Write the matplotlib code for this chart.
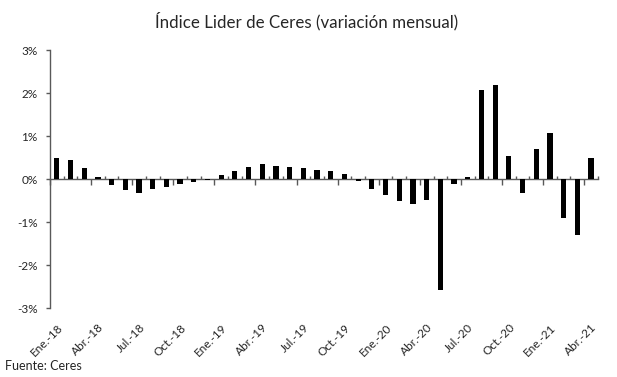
import numpy as np
import matplotlib
matplotlib.use('Agg')
from matplotlib import pyplot as plt

plt.rcParams['font.family'] = ['Lato', 'DejaVu Sans']

AXIS_COLOR = '#595959'
TEXT_COLOR = '#262626'

months = ['Ene', 'Feb', 'Mar', 'Abr', 'May', 'Jun',
          'Jul', 'Ago', 'Sep', 'Oct', 'Nov', 'Dic']
years = ['18', '19', '20', '21']
periods = [m + '.-' + y for y in years for m in months][:40]

# variacion mensual (%), Ene-18 .. Abr-21
values = [0.50, 0.44, 0.26, 0.05, -0.14, -0.25, -0.32, -0.24, -0.18, -0.12, -0.07, -0.02,
          0.09, 0.19, 0.29, 0.34, 0.31, 0.29, 0.26, 0.22, 0.18, 0.12, -0.04, -0.22,
          -0.37, -0.52, -0.57, -0.49, -2.57, -0.11, 0.05, 2.08, 2.20, 0.54, -0.32, 0.69,
          1.08, -0.90, -1.29, 0.49]

yticks = [-3, -2, -1, 0, 1, 2, 3]
ytick_labels = ['-3%', '-2%', '-1%', '0%', '1%', '2%', '3%']

x = np.arange(len(values))

fig = plt.figure(figsize=(6.17, 3.77), dpi=100)
ax = fig.add_axes([0.081, 0.183, 0.888, 0.684])

ax.bar(x, values, width=0.38, color='black', zorder=3)

ax.set_xlim(-0.5, len(values) - 0.5)
ax.set_ylim(-3, 3)

# y axis
ax.set_yticks(yticks)
ax.set_yticklabels(ytick_labels)
ax.tick_params(axis='y', direction='out', length=3, width=1, color=AXIS_COLOR,
               labelsize=8.5, labelcolor=TEXT_COLOR, pad=6)
ax.spines['left'].set_color(AXIS_COLOR)
ax.spines['left'].set_linewidth(1)
for s in ['top', 'right']:
    ax.spines[s].set_visible(False)

# zero line with category boundary ticks
ax.spines['bottom'].set_position(('data', 0))
ax.spines['bottom'].set_color(AXIS_COLOR)
ax.spines['bottom'].set_linewidth(1)
bounds = np.arange(len(values) + 1) - 0.5
ax.set_xticks(bounds[::3])
ax.set_xticks(bounds, minor=True)
ax.set_xticklabels([])
ax.tick_params(axis='x', which='major', direction='out', length=4, width=1,
               color=AXIS_COLOR)
ax.tick_params(axis='x', which='minor', direction='in', length=2.5, width=1,
               color=AXIS_COLOR)

# period labels at the bottom (every 3 months)
low = ax.secondary_xaxis('bottom')
low.spines['bottom'].set_visible(False)
low.set_xticks(x[::3])
low.set_xticklabels(periods[::3], rotation=45, ha='right', va='top',
                    rotation_mode='anchor')
low.tick_params(axis='x', length=0, labelsize=8.5, labelcolor=TEXT_COLOR, pad=10)

fig.text(0.497, 0.945, 'Índice Lider de Ceres (variación mensual)',
         ha='center', va='center', fontsize=12.2, color=TEXT_COLOR)
fig.text(0.008, 0.03, 'Fuente: Ceres', ha='left', va='center',
         fontsize=9, color=TEXT_COLOR)

fig.savefig('out.png', dpi=100, facecolor='white')
